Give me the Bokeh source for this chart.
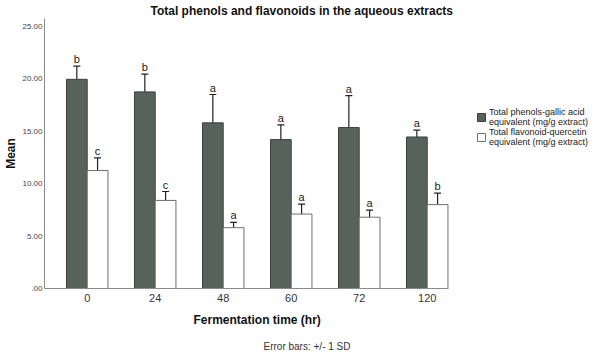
from bokeh.plotting import figure
from bokeh.models import (ColumnDataSource, Whisker, TeeHead, FixedTicker, Title,
                          Legend, LegendItem, Range1d)
from bokeh.embed import file_html
from bokeh.resources import INLINE
from bokeh.core.properties import value

# ---- data ----
times = ["0", "24", "48", "60", "72", "120"]
phenol_mean = [19.95, 18.75, 15.8, 14.2, 15.35, 14.45]
phenol_sd = [1.25, 1.7, 2.7, 1.4, 3.05, 0.65]
phenol_letters = ["b", "b", "a", "a", "a", "a"]
flav_mean = [11.25, 8.4, 5.8, 7.1, 6.8, 8.0]
flav_sd = [1.2, 0.85, 0.5, 0.95, 0.68, 1.1]
flav_letters = ["c", "c", "a", "a", "a", "b"]
y_ticks = [0, 5, 10, 15, 20, 25]

title_text = "Total phenols and flavonoids in the aqueous extracts"
x_label = "Fermentation time (hr)"
y_label = "Mean"
note_text = "Error bars: +/- 1 SD"
phenol_label = "Total phenols-gallic acid\nequivalent (mg/g extract)"
flav_label = "Total flavonoid-quercetin\nequivalent (mg/g extract)"

FONT = "Liberation Sans"
BW = 0.305
OFF = BW / 2

idx = list(range(len(times)))

src_p = ColumnDataSource(dict(
    x=[i - OFF for i in idx], top=phenol_mean,
    upper=[m + s for m, s in zip(phenol_mean, phenol_sd)],
    lower=[m - s for m, s in zip(phenol_mean, phenol_sd)],
    letter=phenol_letters))
src_f = ColumnDataSource(dict(
    x=[i + OFF for i in idx], top=flav_mean,
    upper=[m + s for m, s in zip(flav_mean, flav_sd)],
    lower=[m - s for m, s in zip(flav_mean, flav_sd)],
    letter=flav_letters))

p = figure(width=604, height=358,
           x_range=Range1d(-0.628, 7.607), y_range=Range1d(0, 25.75),
           output_backend="svg", toolbar_location=None,
           min_border_left=44, min_border_right=0,
           min_border_top=8, min_border_bottom=69)
p.outline_line_color = None
p.xgrid.grid_line_color = None
p.ygrid.grid_line_color = None
p.background_fill_color = "white"

p.add_layout(Title(text=title_text, align="left", offset=106, standoff=2,
                   text_font=FONT, text_font_style="bold",
                   text_font_size="12px", text_color="#111111"), "above")

r_p = p.vbar(x="x", top="top", width=BW, bottom=0, source=src_p,
             fill_color="#58625C", line_color="#3A403C", line_width=1)
r_f = p.vbar(x="x", top="top", width=BW, bottom=0, source=src_f,
             fill_color="white", line_color="#6E6E6E", line_width=1)

for src in (src_p, src_f):
    w = Whisker(base="x", upper="upper", lower="lower", source=src,
                line_color="#222222", line_width=1.2,
                upper_head=TeeHead(size=7, line_color="#222222", line_width=1.2),
                lower_head=TeeHead(size=7, line_color="#222222", line_width=1.2))
    p.add_layout(w)
    p.text(x="x", y="upper", text="letter", source=src,
           text_align="center", text_baseline="bottom", y_offset=-1,
           text_font=value(FONT), text_font_size="11px", text_color="#222222")

# axes
xa = p.xaxis[0]
xa.ticker = FixedTicker(ticks=idx)
xa.major_label_overrides = {i: t for i, t in zip(idx, times)}
xa.bounds = (-0.628, 5.313)
xa.major_label_text_font = FONT
xa.major_label_text_font_size = "11px"
xa.major_label_text_color = "#333333"
xa.major_label_standoff = 5
xa.major_tick_out = 0
xa.major_tick_in = 0
xa.major_tick_line_color = None
xa.minor_tick_line_color = None
xa.axis_line_color = "#8A8A8A"

ya = p.yaxis[0]
ya.ticker = FixedTicker(ticks=y_ticks)
ya.major_label_overrides = {t: ("%.2f" % t if t != 0 else ".00") for t in y_ticks}
ya.axis_label = y_label
ya.axis_label_text_font = FONT
ya.axis_label_text_font_style = "bold"
ya.axis_label_text_font_size = "12px"
ya.axis_label_text_color = "#111111"
ya.axis_label_standoff = 1
ya.major_label_text_font = FONT
ya.major_label_text_font_size = "8px"
ya.major_label_text_color = "#444444"
ya.major_label_standoff = 2
ya.major_tick_out = 0
ya.major_tick_in = 0
ya.major_tick_line_color = None
ya.minor_tick_line_color = None
ya.axis_line_color = "#8A8A8A"

p.add_layout(Title(text=x_label, align="left", offset=149, standoff=12,
                   text_font=FONT, text_font_style="bold",
                   text_font_size="12px", text_color="#111111"), "below")
p.add_layout(Title(text=note_text, align="left", offset=219, standoff=13,
                   text_font=FONT, text_font_style="normal",
                   text_font_size="10px", text_color="#333333"), "below")

legend = Legend(items=[LegendItem(label=phenol_label, renderers=[r_p]),
                       LegendItem(label=flav_label, renderers=[r_f])],
                location=(432, 141), padding=0, margin=0, spacing=0,
                glyph_width=10, glyph_height=10, label_standoff=3,
                label_text_font=FONT, label_text_font_size="9px",
                label_text_color="#222222", label_text_line_height=1.0,
                border_line_color=None, background_fill_alpha=0)
p.add_layout(legend)

open("out.html", "w").write(file_html(p, INLINE))
